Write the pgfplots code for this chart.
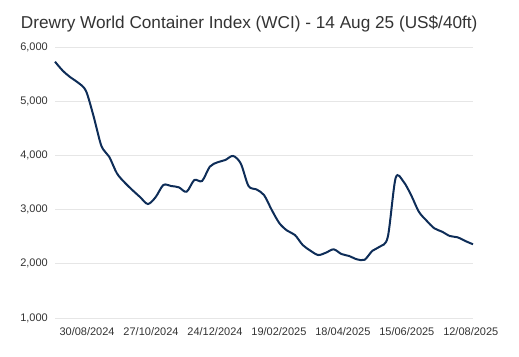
\documentclass[border=0pt]{standalone}
\usepackage{fontspec}
\setmainfont{Liberation Sans}
\usepackage{pgfplots}
\pgfplotsset{compat=1.18}
\definecolor{wci}{RGB}{14,45,88}
\definecolor{txt}{RGB}{51,51,51}
\definecolor{gridc}{RGB}{230,230,230}
\begin{document}
\begin{tikzpicture}
\begin{axis}[
  scale only axis, width=418pt, height=271pt,
  xmin=-29, xmax=349, ymin=1000, ymax=6000,
  axis line style={draw=none},
  ytick={1000,2000,3000,4000,5000,6000},
  xtick={0,57.83,115.67,173.5,231.33,289.17,347},
  xticklabels={30/08/2024,27/10/2024,24/12/2024,19/02/2025,18/04/2025,15/06/2025,12/08/2025},
  major tick length=0pt,
  ymajorgrids, grid style={gridc, line width=1pt},
  tick label style={font=\fontsize{11}{13}\selectfont, text=txt},
  /pgf/number format/assume math mode=true,
  /pgf/number format/1000 sep={,},
  yticklabel style={anchor=east, inner sep=0pt, xshift=-7pt},
  xticklabel style={anchor=north, inner sep=0pt, yshift=-9pt},
  clip=false,
]
\addplot[wci, line width=2pt, smooth, tension=0.5] coordinates {
(-29,5729) (-22,5563) (-15,5440) (-8,5341) (-1,5190) (6,4714) (13,4173) (20,3976)
(27,3669) (34,3500) (41,3360) (48,3230) (55,3103) (62,3230) (69,3454) (76,3435)
(83,3411) (90,3330) (97,3546) (104,3528) (111,3792) (118,3873) (125,3915) (132,3990)
(139,3850) (146,3435) (153,3374) (160,3269) (167,2993) (174,2747) (181,2611) (188,2531)
(195,2347) (202,2242) (209,2162) (216,2205) (223,2267) (230,2181) (237,2144) (244,2083)
(251,2075) (258,2240) (265,2320) (272,2500) (279,3580) (286,3520) (293,3269) (300,2962)
(307,2796) (314,2655) (321,2593) (328,2513) (335,2489) (342,2421) (349,2360)
};
\coordinate (sw) at (rel axis cs:0,0);
\coordinate (ne) at (rel axis cs:1,1);
\coordinate (tl) at (rel axis cs:0,1);
\end{axis}
\node[anchor=base west, inner sep=0pt, font=\fontsize{17.2}{20}\selectfont, text=txt] at ([xshift=-34.3pt, yshift=18.7pt]tl) {Drewry World Container Index (WCI) - 14 Aug 25 (US\$/40ft)};
\pgfresetboundingbox
\useasboundingbox ([xshift=-55pt,yshift=-38pt]sw) rectangle ([xshift=46pt,yshift=47pt]ne);
\end{tikzpicture}
\end{document}
